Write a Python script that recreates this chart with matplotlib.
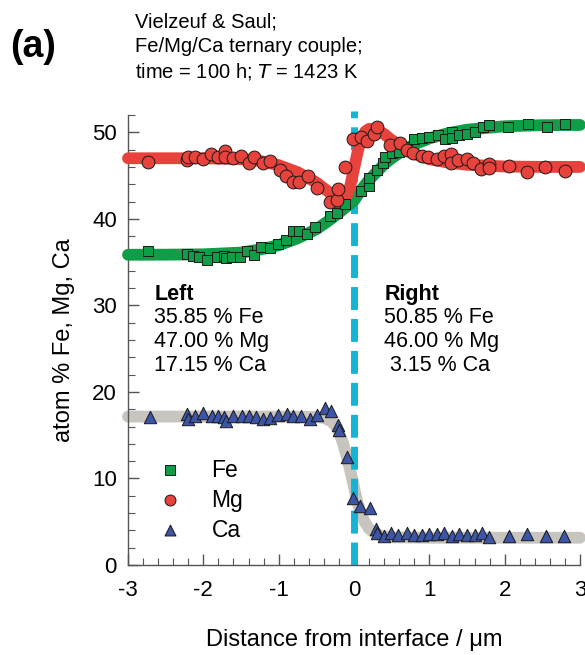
import matplotlib
matplotlib.use("Agg")
import matplotlib.pyplot as plt
from matplotlib.ticker import MultipleLocator

plt.rcParams['font.family'] = ['Liberation Sans', 'DejaVu Sans']

# ---- measured data ----
fe_x = [-2.74, -2.22, -2.14, -2.06, -1.95, -1.82, -1.73, -1.70, -1.62, -1.51,
        -1.42, -1.33, -1.24, -1.12, -1.01, -0.90, -0.81, -0.73, -0.62, -0.52,
        -0.32, -0.23, -0.23, -0.12, 0.09, 0.20, 0.20, 0.30, 0.38, 0.41,
        0.50, 0.60, 0.70, 0.79, 0.90, 1.00, 1.12, 1.21, 1.30, 1.30,
        1.39, 1.50, 1.61, 1.71, 1.79, 2.05, 2.31, 2.56, 2.80]
fe_y = [36.3, 35.9, 35.7, 35.6, 35.2, 35.6, 35.7, 35.5, 35.6, 35.6,
        36.3, 35.8, 36.7, 36.6, 37.1, 37.5, 38.6, 38.6, 38.3, 39.0,
        40.3, 41.2, 40.7, 41.7, 43.2, 43.8, 44.7, 45.6, 46.4, 47.1,
        47.6, 47.7, 48.3, 49.2, 49.3, 49.4, 49.7, 49.2, 50.0, 49.3,
        49.7, 49.8, 50.0, 50.6, 50.8, 50.6, 51.0, 50.6, 51.0]

mg_x = [-2.74, -2.22, -2.21, -2.11, -2.00, -1.90, -1.80, -1.71, -1.71, -1.60,
        -1.50, -1.39, -1.33, -1.21, -1.12, -0.98, -0.90, -0.81, -0.73, -0.61,
        -0.49, -0.32, -0.23, -0.21, -0.12, -0.01, 0.09, 0.17, 0.27, 0.31,
        0.48, 0.61, 0.70, 0.78, 0.90, 0.98, 1.10, 1.20, 1.29, 1.29,
        1.38, 1.50, 1.58, 1.69, 1.79, 1.79, 2.06, 2.30, 2.54, 2.80]
mg_y = [46.6, 46.8, 47.1, 47.2, 46.9, 47.5, 47.2, 47.8, 47.2, 47.0,
        47.3, 46.5, 47.1, 46.4, 46.7, 45.7, 45.0, 44.3, 44.3, 45.0,
        43.6, 41.9, 42.2, 43.4, 46.0, 49.2, 49.4, 49.0, 49.8, 50.6,
        48.5, 48.8, 47.9, 47.6, 47.3, 47.1, 46.9, 47.3, 47.5, 46.5,
        46.8, 46.9, 46.5, 45.8, 46.3, 45.9, 46.1, 45.4, 46.0, 45.5]

ca_x = [-2.71, -2.22, -2.21, -2.11, -2.00, -1.89, -1.80, -1.73, -1.70, -1.60,
        -1.49, -1.39, -1.30, -1.21, -1.12, -1.01, -0.89, -0.81, -0.70, -0.58,
        -0.49, -0.39, -0.31, -0.21, -0.20, -0.09, -0.01, 0.08, 0.21, 0.29,
        0.31, 0.40, 0.49, 0.58, 0.70, 0.80, 0.90, 1.00, 1.10, 1.20,
        1.30, 1.39, 1.50, 1.60, 1.70, 1.79, 2.06, 2.30, 2.55, 2.79]
ca_y = [17.1, 17.4, 16.9, 17.2, 17.6, 17.2, 17.2, 17.1, 16.6, 17.2,
        17.2, 17.2, 17.1, 16.9, 17.0, 17.3, 17.4, 17.2, 17.2, 16.9,
        17.3, 18.2, 17.8, 16.2, 15.6, 12.5, 7.7, 6.8, 6.6, 4.2,
        3.7, 3.3, 3.7, 3.5, 3.7, 3.5, 3.5, 3.6, 3.6, 3.7,
        3.3, 3.6, 3.5, 3.5, 3.7, 3.2, 3.3, 3.6, 3.3, 3.3]

# ---- model curves ----
fe_fit_x = [-3, -2.5, -2, -1.5, -1.25, -1, -0.75, -0.5, -0.35, -0.2, -0.1, 0,
            0.1, 0.2, 0.3, 0.4, 0.5, 0.65, 0.8, 1.0, 1.25, 1.5, 2.0, 2.5, 3.0]
fe_fit_y = [35.85, 35.86, 35.9, 36.1, 36.45, 36.95, 37.75, 38.8, 39.7, 40.7, 41.4, 42.1,
            43.4, 44.5, 45.4, 46.3, 47.0, 47.9, 48.6, 49.3, 49.9, 50.3, 50.7, 50.82, 50.85]

mg_fit_x = [-3, -2, -1.5, -1.25, -1, -0.75, -0.5, -0.35, -0.25, -0.18,
            -0.1, -0.05, 0, 0.05, 0.1, 0.15, 0.2, 0.3, 0.4, 0.5,
            0.65, 0.8, 1.0, 1.25, 1.5, 2, 2.5, 3]
mg_fit_y = [47.0, 47.0, 46.9, 46.7, 46.2, 45.4, 44.2, 43.2, 42.5, 42.2,
            42.6, 43.8, 45.8, 47.8, 49.3, 50.1, 50.4, 50.3, 49.8, 49.1,
            48.2, 47.5, 46.9, 46.5, 46.25, 46.05, 46.0, 46.0]

ca_fit_x = [-3, -1, -0.5, -0.4, -0.3, -0.22, -0.15, -0.08, -0.03, 0.03,
            0.08, 0.14, 0.2, 0.27, 0.35, 0.5, 1, 3]
ca_fit_y = [17.15, 17.15, 17.1, 17.0, 16.6, 15.8, 14.2, 12.0, 10.2, 7.8,
            6.2, 5.0, 4.2, 3.7, 3.4, 3.2, 3.15, 3.15]

x_ticks = [-3, -2, -1, 0, 1, 2, 3]
y_ticks = [0, 10, 20, 30, 40, 50]

left_lines = ["35.85 % Fe", "47.00 % Mg", "17.15 % Ca"]
right_lines = ["50.85 % Fe", "46.00 % Mg", " 3.15 % Ca"]

GREEN = "#0f9d48"
RED = "#e8423c"
GRAY = "#c8c4c0"
BLUE = "#3c55a6"
CYAN = "#14b4d4"
EDGE = "#1a1a1a"

fig = plt.figure(figsize=(5.85, 6.55), dpi=100)
ax = fig.add_axes([128/585, 1-565/655, 452/585, 450/655])

lw_fit = 8.5
ax.plot(ca_fit_x, ca_fit_y, color=GRAY, lw=lw_fit, solid_capstyle='round',
        solid_joinstyle='round', zorder=1, clip_on=False)
ax.axvline(0, ymin=0, ymax=1.01, color=CYAN, lw=5, dashes=(3.3, 1.3), zorder=2, clip_on=False)
ax.plot(fe_fit_x, fe_fit_y, color=GREEN, lw=lw_fit, solid_capstyle='round',
        solid_joinstyle='round', zorder=3, clip_on=False)
ax.plot(mg_fit_x, mg_fit_y, color=RED, lw=lw_fit, solid_capstyle='round',
        solid_joinstyle='round', zorder=3, clip_on=False)

ax.scatter(fe_x, fe_y, marker='s', s=62, facecolor=GREEN, edgecolor=EDGE, linewidth=0.7, zorder=4)
ax.scatter(mg_x, mg_y, marker='o', s=85, facecolor=RED, edgecolor=EDGE, linewidth=0.7, zorder=4)
ax.scatter(ca_x, ca_y, marker='^', s=80, facecolor=BLUE, edgecolor=EDGE, linewidth=0.7, zorder=4)

ax.set_xlim(-3, 3)
ax.set_ylim(0, 52)
ax.set_xticks(x_ticks)
ax.set_xticklabels([str(t) for t in x_ticks])
ax.set_yticks(y_ticks)
ax.xaxis.set_minor_locator(MultipleLocator(0.2))
ax.yaxis.set_minor_locator(MultipleLocator(2))
for s in ['top', 'right']:
    ax.spines[s].set_visible(False)
for s in ['left', 'bottom']:
    ax.spines[s].set_color('#555555')
    ax.spines[s].set_linewidth(1.0)
ax.tick_params(which='both', direction='in', color='#555555', labelsize=16)
ax.tick_params(which='major', length=8, width=1.0)
ax.tick_params(which='minor', length=5, width=0.8)
ax.tick_params(axis='x', which='major', pad=11)
ax.tick_params(axis='y', which='major', pad=8)

ax.set_xlabel("Distance from interface / \u03bcm", fontsize=17, labelpad=20)
ax.set_ylabel("atom % Fe, Mg, Ca", fontsize=17, labelpad=12)

# annotations
fs = 15.5
ax.text(-2.65, 31.3, "Left", fontsize=fs, fontweight='bold', va='center')
ax.text(0.4, 31.3, "Right", fontsize=fs, fontweight='bold', va='center')
for i, (l, r) in enumerate(zip(left_lines, right_lines)):
    yy = 28.55 - i * 2.77
    ax.text(-2.65, yy, l, fontsize=fs, va='center')
    ax.text(0.4, yy, r, fontsize=fs, va='center')

# legend
leg_items = [('s', GREEN, 45, "Fe"), ('o', RED, 62, "Mg"), ('^', BLUE, 62, "Ca")]
for i, (m, c, sz, lab) in enumerate(leg_items):
    yy = 0.211 - i * 0.0667
    ax.scatter([0.093], [yy], marker=m, s=sz, facecolor=c, edgecolor=EDGE, linewidth=0.7,
               transform=ax.transAxes, zorder=5)
    ax.text(0.185, yy, lab, transform=ax.transAxes, fontsize=16.5, va='center')

fig.text(10/585, 1-47/655, "(a)", fontsize=27, fontweight='bold', va='center')
fig.text(135/585, 1-22/655, "Vielzeuf & Saul;", fontsize=14.5, va='center')
fig.text(135/585, 1-46/655, "Fe/Mg/Ca ternary couple;", fontsize=14.5, va='center')
fig.text(135/585, 1-71/655, "time = 100 h; $\\mathit{T}$ = 1423 K", fontsize=14.5, va='center')

fig.savefig("out.png", dpi=100)
